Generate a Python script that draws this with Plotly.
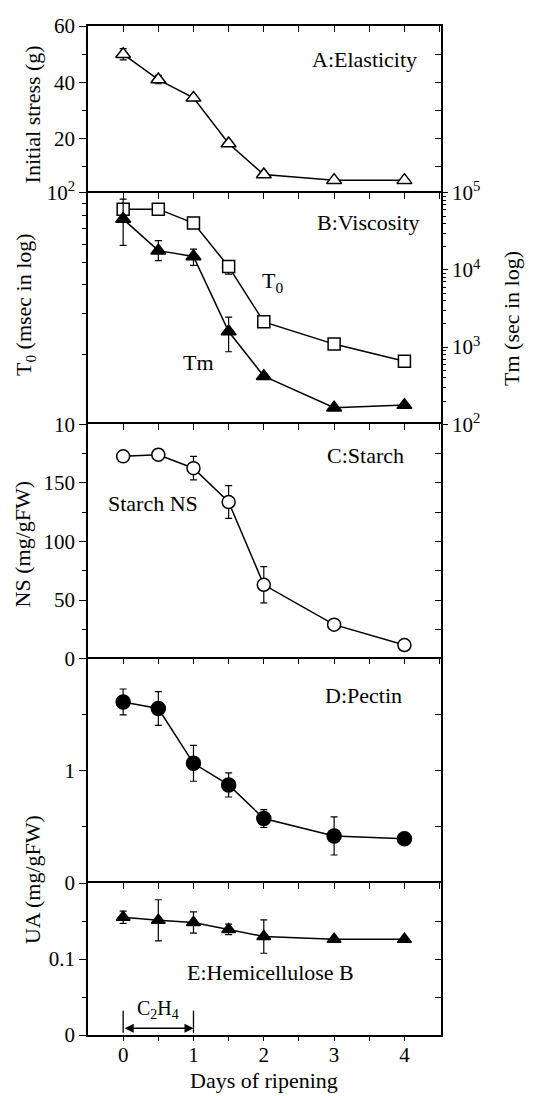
import plotly.graph_objects as go

# ---------------- data ----------------
days = [0, 0.5, 1, 1.5, 2, 3, 4]

elasticity = [50, 41, 34.5, 18.3, 7.3, 5.3, 5.3]
elasticity_err = [2, 1.5, 1, 1, 0.5, 0.5, 0.5]

t0 = [85, 85, 74, 48, 27.7, 22.2, 18.7]
t0_err_up = [0, 0, 0, 3, 0, 0, 0]
t0_err_down = [0, 0, 0, 3.5, 0, 0, 0]

tm = [45700, 17800, 15000, 1590, 420, 164, 177]
tm_err_up = [37000, 6200, 3600, 860, 0, 0, 0]
tm_err_down = [24800, 4600, 3500, 720, 0, 0, 0]

starch = [172.6, 174, 162.5, 133.6, 63, 29, 11.6]
starch_err = [4, 5, 10, 14, 15.5, 0, 0]

pectin = [1.614, 1.555, 1.067, 0.874, 0.575, 0.42, 0.395]
pectin_err = [0.115, 0.15, 0.16, 0.107, 0.08, 0.17, 0]

hemi = [0.155, 0.151, 0.148, 0.139, 0.1296, 0.126, 0.126]
hemi_err = [0.008, 0.027, 0.014, 0.007, 0.022, 0, 0]

c2h4_period = [0, 1]
x_ticks = [0, 1, 2, 3, 4]

FONT = "Liberation Serif"
BLACK = "black"
LW = 1.5

fig = go.Figure()


def add_series(x, y, xa, ya, symbol, filled, size, err=None, errminus=None):
    ey = None
    if err is not None:
        ey = dict(type="data", array=err,
                  arrayminus=errminus if errminus is not None else err,
                  symmetric=errminus is None, color=BLACK, thickness=1.2, width=3.5)
    fig.add_trace(go.Scatter(
        x=x, y=y, xaxis=xa, yaxis=ya, mode="lines+markers",
        line=dict(color=BLACK, width=LW),
        marker=dict(symbol=symbol, size=size, color=BLACK if filled else "white",
                    line=dict(color=BLACK, width=1.5)),
        error_y=ey, showlegend=False, cliponaxis=False, hoverinfo="skip"))


def add_ghost(x, y, xa, ya):
    # invisible trace so that the companion axis is drawn
    fig.add_trace(go.Scatter(x=x, y=y, xaxis=xa, yaxis=ya, mode="markers",
                             marker=dict(opacity=0, size=1), showlegend=False,
                             hoverinfo="skip"))


add_series(days, elasticity, "x", "y", "triangle-up", False, 13, elasticity_err)
add_series(days, t0, "x2", "y2", "square", False, 12, t0_err_up, t0_err_down)
add_series(days, tm, "x2", "y7", "triangle-up", True, 13, tm_err_up, tm_err_down)
add_series(days, starch, "x3", "y3", "circle", False, 13, starch_err)
add_series(days, pectin, "x4", "y4", "circle", True, 14, pectin_err)
add_series(days, hemi, "x5", "y5", "triangle-up", True, 12, hemi_err)

add_ghost(days, elasticity, "x", "y6")
add_ghost(days, starch, "x3", "y8")
add_ghost(days, pectin, "x4", "y9")
add_ghost(days, hemi, "x5", "y10")
add_ghost(days, hemi, "x6", "y5")

# ---------------- layout ----------------
H, W = 1096, 533
mt, mb, ml, mr = 19, 61, 88, 92
ph = H - mt - mb
bounds = [19, 187, 420, 656, 882, 1035]


def py(p):
    return (H - mb - p) / ph


domains = [[py(bounds[i + 1]), py(bounds[i])] for i in range(5)]
domains[-1][0] = 0
domains[0][1] = 1

xrange_ = [-0.5, 4.52]
tickfont = dict(family=FONT, size=21, color=BLACK)

layout = dict(
    width=W, height=H, margin=dict(l=ml, r=mr, t=mt, b=mb),
    paper_bgcolor="white", plot_bgcolor="white",
    font=dict(family=FONT, size=21, color=BLACK),
    showlegend=False,
)

for i in range(5):
    key = "xaxis" if i == 0 else f"xaxis{i+1}"
    layout[key] = dict(
        domain=[0, 1], anchor="y" if i == 0 else f"y{i+1}", range=xrange_,
        side="top", ticks="inside", tickmode="linear", tick0=0, dtick=0.5,
        ticklen=6, tickwidth=1.2, tickcolor=BLACK, showticklabels=False,
        showline=True, linecolor=BLACK, linewidth=LW,
        showgrid=False, zeroline=False)

layout["xaxis6"] = dict(
    overlaying="x5", anchor="y5", side="bottom", range=xrange_,
    ticks="outside", tickmode="array", tickvals=x_ticks,
    ticktext=[str(v) for v in x_ticks], ticklen=4, tickwidth=1.2, tickcolor=BLACK,
    ticklabelstandoff=-4,
    minor=dict(ticks="outside", tickmode="array",
               tickvals=[v + 0.5 for v in x_ticks[:-1]], ticklen=4, tickwidth=1.2,
               tickcolor=BLACK),
    tickfont=tickfont, showline=True, linecolor=BLACK, linewidth=LW,
    showgrid=False, zeroline=False)

left_specs = [
    dict(range=[0.8, 60], tickvals=[20, 40, 60], ticktext=["20", "40", "60"],
         minor=[10, 30, 50]),
    dict(type="log", range=[1, 2], tickvals=[10, 100],
         ticktext=["10", "10<sup>2</sup>"], minor=[20, 30, 40, 50, 60, 70, 80, 90]),
    dict(range=[0, 200], tickvals=[0, 50, 100, 150],
         ticktext=["0", "50", "100", "150"], minor=[25, 75, 125, 175]),
    dict(range=[0, 2], tickvals=[0, 1], ticktext=["0", "1"], minor=[0.5, 1.5]),
    dict(range=[0, 0.2], tickvals=[0, 0.1], ticktext=["0", "0.1"],
         minor=[0.05, 0.15]),
]

for i, s in enumerate(left_specs):
    key = "yaxis" if i == 0 else f"yaxis{i+1}"
    ax = dict(
        domain=domains[i], anchor="x" if i == 0 else f"x{i+1}",
        range=s["range"], tickmode="array", tickvals=s["tickvals"],
        ticktext=s["ticktext"], ticks="outside", ticklen=7, tickwidth=1.2,
        tickcolor=BLACK, tickfont=tickfont,
        minor=dict(ticks="outside", tickmode="array", tickvals=s["minor"],
                   ticklen=4, tickwidth=1.2, tickcolor=BLACK),
        showline=True, linecolor=BLACK, linewidth=LW, showgrid=False,
        zeroline=False)
    if s.get("type"):
        ax["type"] = s["type"]
    layout[key] = ax

# right-side axes (inside ticks) for A, C, D, E; real Tm axis for B
right_map = {0: 6, 2: 8, 3: 9, 4: 10}
for i, n in right_map.items():
    s = left_specs[i]
    allticks = sorted(s["tickvals"] + s["minor"])
    layout[f"yaxis{n}"] = dict(
        overlaying="y" if i == 0 else f"y{i+1}", anchor="x" if i == 0 else f"x{i+1}",
        side="right", range=s["range"], tickmode="array", tickvals=allticks,
        ticks="inside", ticklen=6, tickwidth=1.2, tickcolor=BLACK,
        showticklabels=False, showline=True, linecolor=BLACK, linewidth=LW,
        showgrid=False, zeroline=False)

tm_minor = [m * 10 ** e for e in (2, 3, 4) for m in range(2, 10)]
layout["yaxis7"] = dict(
    overlaying="y2", anchor="x2", side="right", type="log", range=[2, 5],
    tickmode="array", tickvals=[1e2, 1e3, 1e4, 1e5],
    ticktext=["10<sup>2</sup>", "10<sup>3</sup>", "10<sup>4</sup>", "10<sup>5</sup>"],
    ticks="outside", ticklen=5, tickwidth=1.2, tickcolor=BLACK, tickfont=tickfont,
    minor=dict(ticks="outside", tickmode="array", tickvals=tm_minor, ticklen=3,
               tickwidth=1, tickcolor=BLACK),
    showline=True, linecolor=BLACK, linewidth=LW, showgrid=False, zeroline=False)

fig.update_layout(**layout)

afont = dict(family=FONT, size=22, color=BLACK)


def px_x(p):
    return (p - ml) / (W - ml - mr)


annotations = [
    # panel labels
    dict(x=4.2, y=48, xref="x", yref="y", text="A:Elasticity", xanchor="right"),
    dict(x=4.25, y=1.8725, xref="x2", yref="y2", text="B:Viscosity", xanchor="right"),
    dict(x=2.12, y=1.614, xref="x2", yref="y2", text="T<sub>0</sub>", xanchor="center"),
    dict(x=1.07, y=1.266, xref="x2", yref="y2", text="Tm", xanchor="center"),
    dict(x=4.02, y=173, xref="x3", yref="y3", text="C:Starch", xanchor="right"),
    dict(x=-0.25, y=132, xref="x3", yref="y3", text="Starch NS", xanchor="left"),
    dict(x=3.99, y=1.67, xref="x4", yref="y4", text="D:Pectin", xanchor="right"),
    dict(x=2.09, y=0.0827, xref="x5", yref="y5", text="E:Hemicellulose B",
         xanchor="center"),
    dict(x=sum(c2h4_period) / 2, y=0.033, xref="x5", yref="y5",
         text="C<sub>2</sub>H<sub>4</sub>", xanchor="center",
         font=dict(family=FONT, size=20, color=BLACK)),
    # axis titles
    dict(x=px_x(32), y=py(108), xref="paper", yref="paper",
         text="Initial stress (g)", textangle=-90),
    dict(x=px_x(25), y=py(300), xref="paper", yref="paper",
         text="T<sub>0</sub> (msec in log)", textangle=-90),
    dict(x=px_x(22), y=py(541), xref="paper", yref="paper",
         text="NS (mg/gFW)", textangle=-90),
    dict(x=px_x(32), y=py(879), xref="paper", yref="paper",
         text="UA (mg/gFW)", textangle=-90),
    dict(x=px_x(512), y=py(314), xref="paper", yref="paper",
         text="Tm (sec in log)", textangle=-90),
    dict(x=px_x(264), y=py(1081), xref="paper", yref="paper",
         text="Days of ripening"),
]
for a in annotations:
    a.setdefault("showarrow", False)
    a.setdefault("font", afont)
    a.setdefault("yanchor", "middle")
    a.setdefault("xanchor", "center")
    fig.add_annotation(**a)

# C2H4 double arrow and bounding bars
fig.add_annotation(x=c2h4_period[1], y=0.009, ax=c2h4_period[0], ay=0.009,
                   xref="x5", yref="y5", axref="x5", ayref="y5", text="",
                   showarrow=True, arrowhead=2, arrowside="end+start",
                   arrowsize=1.2, arrowwidth=1.5, arrowcolor=BLACK)
for xv in c2h4_period:
    fig.add_shape(type="line", xref="x5", yref="y5", x0=xv, x1=xv, y0=0.003, y1=0.032,
                  line=dict(color=BLACK, width=1.3))

fig.write_html("out.html")
